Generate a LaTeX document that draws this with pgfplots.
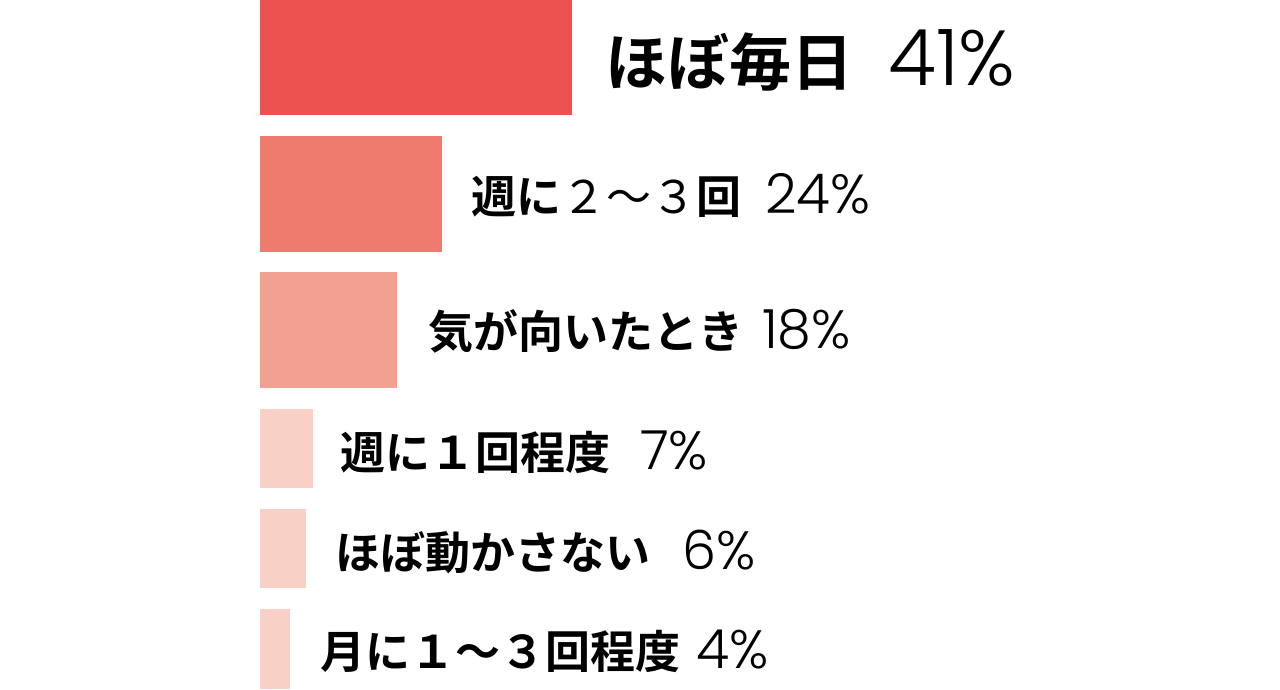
\documentclass[border=0pt]{standalone}
\usepackage{fontspec}
\usepackage{pgfplots}
\pgfplotsset{compat=1.18}
\newfontfamily\jp{Noto Sans CJK JP}[BoldFont=* Bold]
\newfontfamily\pct{Poppins Light}
\definecolor{c1}{RGB}{236,83,80}
\definecolor{c2}{RGB}{238,123,110}
\definecolor{c3}{RGB}{242,160,145}
\definecolor{c4}{RGB}{248,208,198}
\newcommand{\lab}[1]{\jp\bfseries\fontsize{#1}{#1}\selectfont}
\newcommand{\num}[1]{\pct\fontsize{#1}{#1}\selectfont}
\tikzset{lbl/.style={anchor=base west, inner sep=0pt}}
\begin{document}
\begin{tikzpicture}
\begin{axis}[
  scale only axis, width=1280pt, height=689pt,
  xmin=-34.2105, xmax=134.2105, ymin=0, ymax=689, y dir=reverse,
  hide axis, clip=false,
  xbar, bar shift=0pt,
]
% share in percent, bar centre in pixels from the top
\addplot[fill=c1, draw=none, bar width=115] coordinates {(41,57.5)};
\addplot[fill=c2, draw=none, bar width=116] coordinates {(24,194)};
\addplot[fill=c3, draw=none, bar width=116] coordinates {(18,330)};
\addplot[fill=c4, draw=none, bar width=79] coordinates {(7,448.5)};
\addplot[fill=c4, draw=none, bar width=79] coordinates {(6,548.5)};
\addplot[fill=c4, draw=none, bar width=80] coordinates {(4,649)};

\node[lbl] at (axis cs:45.39,85) {\lab{62pt}ほぼ毎日};
\node[lbl] at (axis cs:82.63,85) {\num{78pt}41\%};
\node[lbl] at (axis cs:27.76,213) {\lab{45pt}週に{\mdseries ２～３}回};
\node[lbl] at (axis cs:66.45,213) {\num{55pt}24\%};
\node[lbl] at (axis cs:22.11,348) {\lab{45pt}気が向いたとき};
\node[lbl] at (axis cs:66.05,348) {\num{54pt}18\%};
\node[lbl] at (axis cs:10.53,469) {\lab{45pt}週に１回程度};
\node[lbl] at (axis cs:50.00,469) {\num{54pt}7\%};
\node[lbl] at (axis cs:9.87,569) {\lab{45pt}ほぼ動かさない};
\node[lbl] at (axis cs:55.53,569) {\num{54pt}6\%};
\node[lbl] at (axis cs:7.89,668) {\lab{45pt}月に１～３回程度};
\node[lbl] at (axis cs:57.37,668) {\num{54pt}4\%};

\coordinate (sw) at (axis cs:-34.2105,689);
\coordinate (ne) at (axis cs:134.2105,0);
\end{axis}
\pgfresetboundingbox
\path[use as bounding box] (sw) rectangle (ne);
\end{tikzpicture}
\end{document}
